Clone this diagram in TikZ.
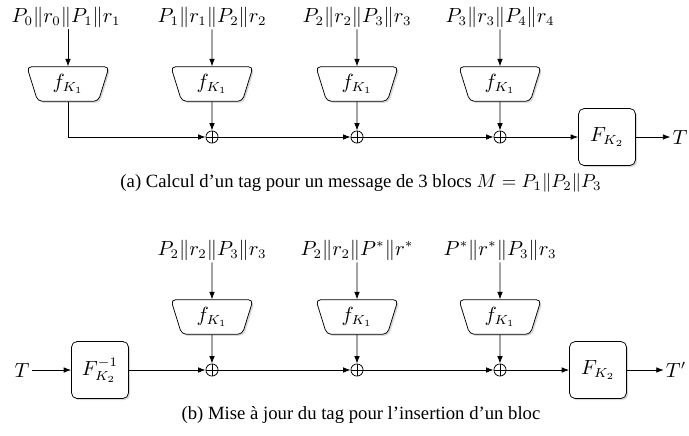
\documentclass[tikz,border=0pt]{standalone}
\usepackage{amsmath}
\usepackage{fontspec}
\setmainfont{Liberation Serif}
\usepackage{tikz}
\usetikzlibrary{positioning,arrows.meta,shapes.geometric,shadows}

\begin{document}
\begin{tikzpicture}[
      x=0.535pt, y=-0.535pt,
      font=\fontsize{10.6}{12}\selectfont,
      fbox/.style={trapezium, trapezium angle=75, shape border rotate=180, trapezium stretches=true, draw, fill=white, rounded corners=2.5pt, minimum width=44pt, minimum height=18.5pt, inner sep=1pt, drop shadow={opacity=0.3, shadow xshift=0.9pt, shadow yshift=-0.9pt}},
      Fbox/.style={rectangle, draw, fill=white, rounded corners=3pt, minimum width=30.5pt, minimum height=30.5pt, drop shadow={opacity=0.3, shadow xshift=0.9pt, shadow yshift=-0.9pt}},
      xor/.style={circle, draw, minimum size=6.5pt, inner sep=0pt, path picture={\draw (path picture bounding box.north) -- (path picture bounding box.south) (path picture bounding box.west) -- (path picture bounding box.east);}},
      arrow/.style={-{Latex[length=4pt,width=3pt]}},
      lab/.style={inner sep=1pt},
      captionlab/.style={font=\normalsize}
    ]
    \useasboundingbox (0,0) rectangle (689,435);

    % (a) tag computation
    \node[lab] (ina1) at (66,17) {$P_0\|r_0\|P_1\|r_1$};
    \node[lab] (ina2) at (212,17) {$P_1\|r_1\|P_2\|r_2$};
    \node[lab] (ina3) at (357,17) {$P_2\|r_2\|P_3\|r_3$};
    \node[lab] (ina4) at (500,17) {$P_3\|r_3\|P_4\|r_4$};

    \node[fbox] (fa1) at (68,84) {$f_{K_1}$};
    \node[fbox] (fa2) at (212,84) {$f_{K_1}$};
    \node[fbox] (fa3) at (357,84) {$f_{K_1}$};
    \node[fbox] (fa4) at (500,84) {$f_{K_1}$};

    \node[xor] (xa2) at (212,137) {};
    \node[xor] (xa3) at (357,137) {};
    \node[xor] (xa4) at (500,137) {};

    \node[Fbox] (Fa) at (607,137) {$F_{K_2}$};
    \node[lab] (Ta) at (680,137) {$T$};

    \node[captionlab] (capa) at (361,183) {(a) Calcul d'un tag pour un message de 3 blocs $M = P_1\|P_2\|P_3$};

    \draw[arrow] (ina1.south -| fa1.north) -- (fa1.north);
    \draw[arrow] (ina2) -- (fa2);
    \draw[arrow] (ina3) -- (fa3);
    \draw[arrow] (ina4) -- (fa4);
    \draw[arrow] (fa1.south) |- (xa2);
    \draw[arrow] (fa2) -- (xa2);
    \draw[arrow] (fa3) -- (xa3);
    \draw[arrow] (fa4) -- (xa4);
    \draw[arrow] (xa2) -- (xa3);
    \draw[arrow] (xa3) -- (xa4);
    \draw[arrow] (xa4) -- (Fa);
    \draw[arrow] (Fa) -- (Ta);

    % (b) tag update
    \node[lab] (inb1) at (212,250) {$P_2\|r_2\|P_3\|r_3$};
    \node[lab] (inb2) at (357,250) {$P_2\|r_2\|P^*\|r^*$};
    \node[lab] (inb3) at (500,250) {$P^*\|r^*\|P_3\|r_3$};

    \node[fbox] (fb1) at (212,317) {$f_{K_1}$};
    \node[fbox] (fb2) at (357,317) {$f_{K_1}$};
    \node[fbox] (fb3) at (500,317) {$f_{K_1}$};

    \node[xor] (xb1) at (212,370) {};
    \node[xor] (xb2) at (357,370) {};
    \node[xor] (xb3) at (500,370) {};

    \node[lab] (Tin) at (22,370) {$T$};
    \node[Fbox] (Finv) at (100,370) {$F^{-1}_{K_2}$};
    \node[Fbox] (Fb) at (598,370) {$F_{K_2}$};
    \node[lab] (Tout) at (676,370) {$T'$};

    \node[captionlab] (capb) at (361,415) {(b) Mise à jour du tag pour l'insertion d'un bloc};

    \draw[arrow] (inb1) -- (fb1);
    \draw[arrow] (inb2) -- (fb2);
    \draw[arrow] (inb3) -- (fb3);
    \draw[arrow] (fb1) -- (xb1);
    \draw[arrow] (fb2) -- (xb2);
    \draw[arrow] (fb3) -- (xb3);
    \draw[arrow] (Tin) -- (Finv);
    \draw[arrow] (Finv) -- (xb1);
    \draw[arrow] (xb1) -- (xb2);
    \draw[arrow] (xb2) -- (xb3);
    \draw[arrow] (xb3) -- (Fb);
    \draw[arrow] (Fb) -- (Tout);
\end{tikzpicture}
\end{document}
